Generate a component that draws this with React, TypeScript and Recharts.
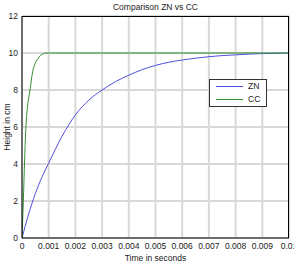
import React from 'react';
import {
  LineChart,
  Line,
  XAxis,
  YAxis,
  CartesianGrid,
} from 'recharts';

const xTicks = [0, 0.001, 0.002, 0.003, 0.004, 0.005, 0.006, 0.007, 0.008, 0.009, 0.01];
const yTicks = [0, 2, 4, 6, 8, 10, 12];

const znTime = [0, 0.00025, 0.0005, 0.00075, 0.001, 0.0015, 0.002, 0.0025, 0.003, 0.0035, 0.004, 0.0045, 0.005, 0.0055, 0.006, 0.0065, 0.007, 0.0075, 0.008, 0.0085, 0.009, 0.0095, 0.01];
const znHeight = [0, 1.3, 2.4, 3.3, 4.05, 5.5, 6.65, 7.45, 8.0, 8.45, 8.8, 9.1, 9.33, 9.5, 9.62, 9.72, 9.8, 9.86, 9.9, 9.94, 9.97, 9.98, 10];

const ccTime = [0, 0.00005, 0.0001, 0.00015, 0.0002, 0.0003, 0.0004, 0.0005, 0.0006, 0.0007, 0.0008, 0.0009, 0.001, 0.002, 0.004, 0.006, 0.008, 0.01];
const ccHeight = [0, 2, 4.3, 6.1, 7.0, 8.0, 9.0, 9.45, 9.7, 9.88, 9.96, 10, 10, 10, 10, 10, 10, 10];

// merge both series on a shared time column
const allTimes = Array.from(new Set([...znTime, ...ccTime])).sort((a, b) => a - b);
const chartData = allTimes.map((t) => {
  const zi = znTime.indexOf(t);
  const ci = ccTime.indexOf(t);
  return {
    t,
    zn: zi >= 0 ? znHeight[zi] : null,
    cc: ci >= 0 ? ccHeight[ci] : null,
  };
});

const FONT = '"Liberation Sans", Arial, sans-serif';
const ZN_COLOR = '#5050e0';
const CC_COLOR = '#2f8f2f';

// plot area: x 22..289, y 16..238
const LegendBox = () => (
  <div
    style={{
      position: 'absolute',
      left: 209,
      top: 79,
      width: 56,
      height: 26,
      border: '1px solid #333',
      background: '#fff',
      fontFamily: FONT,
      fontSize: 8.5,
      color: '#222',
    }}
  >
    {[
      { name: 'ZN', color: ZN_COLOR, top: 6 },
      { name: 'CC', color: CC_COLOR, top: 19 },
    ].map((s) => (
      <div key={s.name}>
        <div style={{ position: 'absolute', left: 6, width: 27, top: s.top, height: 1, background: s.color }} />
        <div style={{ position: 'absolute', left: 38, top: s.top - 5, lineHeight: '10px' }}>{s.name}</div>
      </div>
    ))}
  </div>
);

export default function App() {
  return (
    <div style={{ position: 'absolute', left: 0, top: 0, width: 294, height: 267, background: '#fff', overflow: 'hidden' }}>
      <div
        style={{
          position: 'absolute',
          top: 2,
          left: 22,
          width: 267,
          textAlign: 'center',
          fontFamily: FONT,
          fontSize: 8.5,
          color: '#222',
        }}
      >
        Comparison ZN vs CC
      </div>
      <LineChart
        width={294}
        height={267}
        data={chartData}
        margin={{ top: 16, right: 5, bottom: 0, left: 0 }}
        style={{ fontFamily: FONT }}
      >
        <CartesianGrid stroke="#d8d8d8" strokeWidth={2} />
        <XAxis
          dataKey="t"
          type="number"
          domain={[0, 0.01]}
          ticks={xTicks}
          allowDataOverflow
          tickFormatter={(v: number) => String(Number(v.toFixed(3)))}
          stroke="#000"
          tick={{ fill: '#222', fontSize: 8.5 }}
          tickSize={3}
          tickLine={false}
          height={29}
          interval={0}
          label={{ value: 'Time in seconds', position: 'insideBottom', offset: 6, fill: '#222', fontSize: 8.5 }}
        />
        <YAxis
          type="number"
          domain={[0, 12]}
          ticks={yTicks}
          stroke="#000"
          tick={{ fill: '#222', fontSize: 8.5 }}
          tickSize={2}
          tickLine={false}
          width={22}
          interval={0}
          label={{ value: 'Height in cm', angle: -90, position: 'insideLeft', offset: 7, fill: '#222', fontSize: 8.5, style: { textAnchor: 'middle' } }}
        />
        <Line dataKey="zn" name="ZN" type="monotone" stroke={ZN_COLOR} strokeWidth={1} dot={false} connectNulls isAnimationActive={false} />
        <Line dataKey="cc" name="CC" type="monotone" stroke={CC_COLOR} strokeWidth={1} dot={false} connectNulls isAnimationActive={false} />
      </LineChart>
      <div
        style={{
          position: 'absolute',
          left: 22,
          top: 16,
          width: 267,
          height: 222,
          borderTop: '1px solid #000',
          borderRight: '1px solid #000',
          boxSizing: 'border-box',
          pointerEvents: 'none',
        }}
      />
      <LegendBox />
    </div>
  );
}
